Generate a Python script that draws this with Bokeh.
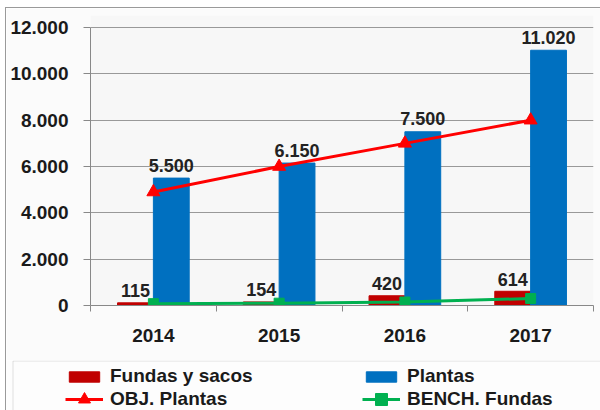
import numpy as np
from bokeh.plotting import figure
from bokeh.layouts import column
from bokeh.models import Range1d, FixedTicker, Legend, LegendItem, BoxAnnotation
from bokeh.core.properties import value
from bokeh.embed import file_html
from bokeh.resources import INLINE

years = ["2014", "2015", "2016", "2017"]
fundas = [115, 154, 420, 614]
plantas = [5500, 6150, 7500, 11020]
obj_plantas = [4900, 6000, 7000, 8000]
bench_fundas = [80, 100, 150, 300]
y_ticks = [0, 2000, 4000, 6000, 8000, 10000, 12000]

C_FUNDAS = "#C00000"
C_PLANTAS = "#0070C0"
C_OBJ = "#FF0000"
C_BENCH = "#00B050"


def fmt(v):
    return f"{v:,}".replace(",", ".")


FONT = "Liberation Sans"
x = np.arange(len(years)) + 0.5
bw = 0.285
xf = x - bw / 2
xp = x + bw / 2

p = figure(width=594, height=352, output_backend="svg", toolbar_location=None,
           x_range=Range1d(0, len(years)), y_range=Range1d(0, 12520),
           min_border_left=84, min_border_right=7, min_border_top=7, min_border_bottom=55)
p.frame_align = False
p.outline_line_color = None
p.background_fill_color = "#f7f7f7"
p.border_fill_color = "#fbfbfb"

p.vbar(x=xf, top=fundas, width=bw, color=C_FUNDAS)
p.vbar(x=xp, top=plantas, width=bw, color=C_PLANTAS)
p.line(x, obj_plantas, color=C_OBJ, line_width=3)
p.scatter(x, obj_plantas, marker="triangle", size=13, color=C_OBJ)
p.line(x, bench_fundas, color=C_BENCH, line_width=3)
p.scatter(x, bench_fundas, marker="square", size=10, color=C_BENCH)

p.text(x=xp, y=plantas, text=[fmt(v) for v in plantas], text_align="center",
       text_baseline="alphabetic", y_offset=-13, text_font=value(FONT),
       text_font_style="bold", text_font_size="18px", text_color="#222222")
p.text(x=xf, y=fundas, text=[fmt(v) for v in fundas], text_align="center",
       text_baseline="alphabetic", y_offset=-12, text_font=value(FONT),
       text_font_style="bold", text_font_size="18px", text_color="#222222")

# axes
p.yaxis.ticker = FixedTicker(ticks=y_ticks)
p.yaxis.bounds = (0, 12000)
p.yaxis.major_label_overrides = {t: fmt(t) for t in y_ticks}
p.yaxis.axis_line_color = "#888888"
p.yaxis.major_tick_line_color = "#888888"
p.yaxis.major_tick_out = 7
p.yaxis.major_tick_in = 0
p.yaxis.minor_tick_line_color = None
p.yaxis.major_label_standoff = 15

p.xaxis.ticker = FixedTicker(ticks=[float(v) for v in x], minor_ticks=list(range(len(years) + 1)))
p.xaxis.major_label_overrides = {float(v): yr for v, yr in zip(x, years)}
p.xaxis.axis_line_color = "#888888"
p.xaxis.major_tick_line_color = None
p.xaxis.major_tick_out = 0
p.xaxis.major_tick_in = 0
p.xaxis.minor_tick_line_color = "#888888"
p.xaxis.minor_tick_out = 6
p.xaxis.minor_tick_in = 0
p.xaxis.major_label_standoff = 17

for ax in (p.xaxis, p.yaxis):
    ax.major_label_text_font = FONT
    ax.major_label_text_font_style = "bold"
    ax.major_label_text_font_size = "19px"
    ax.major_label_text_color = "#1a1a1a"

p.xgrid.visible = False
p.ygrid.ticker = FixedTicker(ticks=y_ticks)
p.ygrid.grid_line_color = "#999999"

# legend panel (separate figure below the chart, no axes)
lf = figure(width=594, height=50, output_backend="svg", toolbar_location=None,
            x_axis_location=None, y_axis_location=None,
            x_range=Range1d(0, 594), y_range=Range1d(0, 50),
            min_border_left=0, min_border_right=0, min_border_top=0, min_border_bottom=0)
lf.frame_align = False
lf.grid.visible = False
lf.outline_line_color = None
lf.background_fill_color = "#fdfdfd"
lf.border_fill_color = "#fdfdfd"
lf.add_layout(BoxAnnotation(left=6.5, right=700, top=49.5, bottom=-20,
                            fill_alpha=0, line_color="#999999", line_width=1))

# legend-only renderers, placed outside the visible range
off = [-1000]
d_f = lf.vbar(x=off, top=off, width=1, color=C_FUNDAS)
d_p = lf.vbar(x=off, top=off, width=1, color=C_PLANTAS)
d_ol = lf.line(x=off, y=off, color=C_OBJ, line_width=3)
d_os = lf.scatter(x=off, y=off, marker="triangle", size=13, color=C_OBJ)
d_bl = lf.line(x=off, y=off, color=C_BENCH, line_width=3)
d_bs = lf.scatter(x=off, y=off, marker="square", size=10, color=C_BENCH)


def make_legend(label, renderers, loc, gh):
    return Legend(items=[LegendItem(label=label, renderers=renderers)], location=loc,
                  orientation="vertical", padding=0, spacing=0,
                  margin=0, glyph_width=38, glyph_height=gh, label_height=22,
                  label_standoff=7, border_line_color=None, background_fill_alpha=0,
                  label_text_font=FONT, label_text_font_style="bold",
                  label_text_font_size="19px", label_text_color="#1a1a1a")


lf.add_layout(make_legend("Fundas y sacos", [d_f], (59, 23), 13))
lf.add_layout(make_legend("Plantas", [d_p], (356, 23), 13))
lf.add_layout(make_legend("OBJ. Plantas", [d_ol, d_os], (59, -4), 30))
lf.add_layout(make_legend("BENCH. Fundas", [d_bl, d_bs], (356, -4), 30))

layout = column(p, lf, spacing=0,
                styles={"margin-left": "5px", "margin-top": "7px",
                        "border-left": "1px solid #9a9a9a", "border-top": "1px solid #9a9a9a"})
open("out.html", "w").write(file_html(layout, INLINE))
